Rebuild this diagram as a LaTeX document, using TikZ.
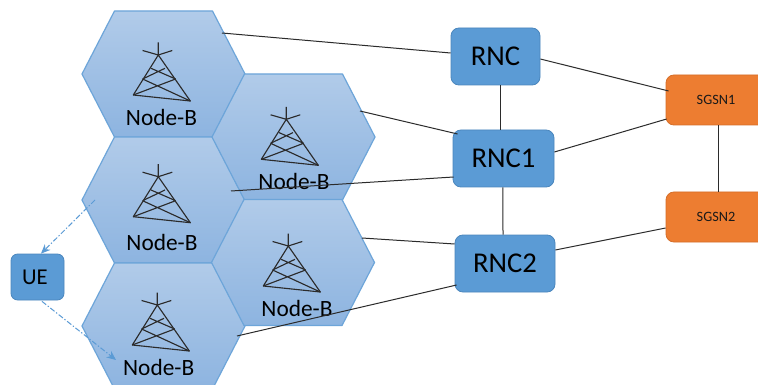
\documentclass[tikz,border=0pt]{standalone}
\usepackage{fontspec}
\usetikzlibrary{arrows.meta}
\setmainfont{Carlito}
\definecolor{boxblue}{HTML}{5B9BD5}
\definecolor{boxblueedge}{HTML}{4A86BD}
\definecolor{boxorange}{HTML}{ED7D31}
\definecolor{boxorangeedge}{HTML}{D56E28}
\definecolor{hextop}{HTML}{B1CBE9}
\definecolor{hexbot}{HTML}{8DB4E0}
\definecolor{hexedge}{HTML}{6DA5D9}
\definecolor{inkline}{HTML}{2B2B2B}
\tikzset{
  x=0.75pt, y=-0.75pt,
  hexcell/.style={top color=hextop, bottom color=hexbot, draw=hexedge, line width=0.9pt, line join=round},
  rncbox/.style={draw=boxblueedge, fill=boxblue, rounded corners=6pt, line width=0.6pt, inner sep=0pt, font=\fontsize{21.5}{24}\selectfont, text=black},
  uebox/.style={rncbox, rounded corners=5pt, font=\fontsize{17}{18}\selectfont},
  sgsnbox/.style={draw=boxorangeedge, fill=boxorange, rounded corners=6pt, line width=0.6pt, inner sep=0pt, font=\fontsize{10.7}{12}\selectfont, text=black!90},
  nodelabel/.style={inner sep=0pt, font=\fontsize{17.5}{20}\selectfont, text=black},
  link/.style={draw=inkline, line width=0.75pt},
  radiolink/.style={draw=boxblue, line width=0.75pt, dash pattern=on 4pt off 1.5pt on 1pt off 1.5pt, -{Stealth[length=7pt,width=6pt]}},
  towerline/.style={draw=inkline, line width=0.85pt, line join=round},
  pics/towerglyph/.style={code={
    \draw[towerline] (-25,40) -- (0,0) -- (32,46) -- cycle;
    \draw[towerline] (0,0) -- (0,-12.5) (0,0) -- (-15.7,-4.5) (0,0) -- (14,-4.5);
    \draw[towerline] (-7.3,13.3) -- (17.3,24) (6.7,13.3) -- (-15.7,24)
                     (-15.7,24) -- (32,46) (17.3,24) -- (-25,40);
  }}
}
\begin{document}
\begin{tikzpicture}
\useasboundingbox (0,0) rectangle (758,385);
\clip (0,0) rectangle (758,385);
\fill[white] (0,0) rectangle (758,385);

% hexagonal cells
\foreach \cx/\cy in {163.5/74, 163.5/200, 163.5/326, 293.5/137, 293/262.5}{
  \path[hexcell] (\cx-81.5,\cy) -- (\cx-49,\cy-63) -- (\cx+49,\cy-63) -- (\cx+81.5,\cy)
     -- (\cx+49,\cy+63) -- (\cx-49,\cy+63) -- cycle;
}

% towers
\pic at (158.3,55) {towerglyph};
\pic at (286.3,119.3) {towerglyph};
\pic at (158.3,176.7) {towerglyph};
\pic at (288.3,246) {towerglyph};
\pic at (157.3,305) {towerglyph};

% cell labels
\node[nodelabel] (nb1) at (161.5,117) {Node-B};
\node[nodelabel] (nb2) at (294,181) {Node-B};
\node[nodelabel] (nb3) at (162,242) {Node-B};
\node[nodelabel] (nb4) at (297,308) {Node-B};
\node[nodelabel] (nb5) at (158.7,367) {Node-B};

% boxes
\node[rncbox, minimum width=66.75pt, minimum height=42.75pt] (rnc) at (495.5,56.5) {RNC};
\node[rncbox, minimum width=75.75pt, minimum height=42.75pt] (rnc1) at (503.5,158.5) {RNC1};
\node[rncbox, minimum width=75pt, minimum height=42.75pt] (rnc2) at (505,263.5) {RNC2};
\node[sgsnbox, minimum width=75pt, minimum height=37.5pt] (sgsn1) at (716,100) {SGSN1};
\node[sgsnbox, minimum width=75pt, minimum height=37.5pt] (sgsn2) at (716,217) {SGSN2};
\node[uebox, minimum width=39.75pt, minimum height=34.5pt] (ue) at (37.5,277) {\kern-4pt UE};

% free ends on the cells
\coordinate (c1) at (222,33);
\coordinate (c2) at (360,111);
\coordinate (c3) at (231,191);
\coordinate (c4) at (362,238);
\coordinate (c5) at (237,336);
\coordinate (r3) at (95,200);
\coordinate (r5) at (116,360);

% connectors
\draw[link] (c1) -- ([shift={(0,-3.5)}]rnc.west);
\draw[link] (c2) -- ([shift={(5,-24.5)}]rnc1.west);
\draw[link] (c3) -- ([shift={(1,18.5)}]rnc1.west);
\draw[link] (c4) -- ([shift={(0,-19.5)}]rnc2.west);
\draw[link] (c5) -- ([shift={(2,21.5)}]rnc2.west);
\draw[link] ([xshift=3.4pt]rnc.south) -- ([xshift=-2.6pt]rnc1.north);
\draw[link] ([xshift=-0.4pt]rnc1.south) -- ([xshift=-1.5pt]rnc2.north);
\draw[link] ([shift={(0,2.5)}]rnc.east) -- ([shift={(3,-9)}]sgsn1.west);
\draw[link] ([shift={(0,-6.5)}]rnc1.east) -- ([shift={(1,19)}]sgsn1.west);
\draw[link] ([shift={(0,-13.5)}]rnc2.east) -- ([shift={(0,11)}]sgsn2.west);
\draw[link] ([xshift=2pt]sgsn1.south) -- ([xshift=2pt]sgsn2.north);
\draw[radiolink] (r3) -- ([shift={(3.5,0)}]ue.north);
\draw[radiolink] ([shift={(4.5,1)}]ue.south) -- (r5);
\end{tikzpicture}
\end{document}
